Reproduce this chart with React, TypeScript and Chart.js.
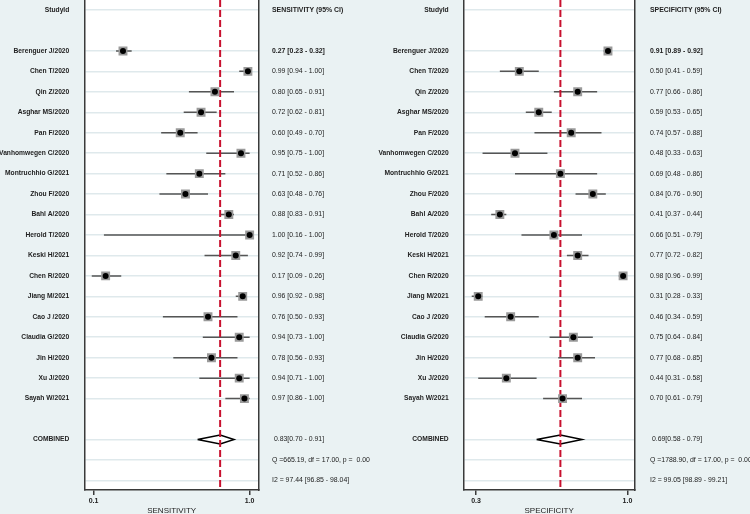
import React, { useEffect, useRef } from 'react';
import { Chart, registerables } from 'chart.js';
Chart.register(...registerables);
Chart.defaults.font.family = '"Liberation Sans", Arial, sans-serif';

const studies = [
  'Berenguer J/2020', 'Chen T/2020', 'Qin Z/2020', 'Asghar MS/2020', 'Pan F/2020',
  'Vanhomwegen C/2020', 'Montruchhio G/2021', 'Zhou F/2020', 'Bahl A/2020', 'Herold T/2020',
  'Keski H/2021', 'Chen R/2020', 'Jiang M/2021', 'Cao J /2020', 'Claudia G/2020',
  'Jin H/2020', 'Xu J/2020', 'Sayah W/2021',
];

const sensEst = [0.27, 0.99, 0.80, 0.72, 0.60, 0.95, 0.71, 0.63, 0.88, 1.00, 0.92, 0.17, 0.96, 0.76, 0.94, 0.78, 0.94, 0.97];
const sensLo = [0.23, 0.94, 0.65, 0.62, 0.49, 0.75, 0.52, 0.48, 0.83, 0.16, 0.74, 0.09, 0.92, 0.50, 0.73, 0.56, 0.71, 0.86];
const sensHi = [0.32, 1.00, 0.91, 0.81, 0.70, 1.00, 0.86, 0.76, 0.91, 1.00, 0.99, 0.26, 0.98, 0.93, 1.00, 0.93, 1.00, 1.00];
const sensPooled = [0.83, 0.70, 0.91];
const sensStats = ['Q =665.19, df = 17.00, p =  0.00', 'I2 = 97.44 [96.85 - 98.04]'];
const sensTicks = [0.1, 1.0];

const specEst = [0.91, 0.50, 0.77, 0.59, 0.74, 0.48, 0.69, 0.84, 0.41, 0.66, 0.77, 0.98, 0.31, 0.46, 0.75, 0.77, 0.44, 0.70];
const specLo = [0.89, 0.41, 0.66, 0.53, 0.57, 0.33, 0.48, 0.76, 0.37, 0.51, 0.72, 0.96, 0.28, 0.34, 0.64, 0.68, 0.31, 0.61];
const specHi = [0.92, 0.59, 0.86, 0.65, 0.88, 0.63, 0.86, 0.90, 0.44, 0.79, 0.82, 0.99, 0.33, 0.59, 0.84, 0.85, 0.58, 0.79];
const specPooled = [0.69, 0.58, 0.79];
const specStats = ['Q =1788.90, df = 17.00, p =  0.00', 'I2 = 99.05 [98.89 - 99.21]'];
const specTicks = [0.3, 1.0];

const Y_MIN = -0.49;
const Y_MAX = 23.47;
const COMBINED_ROW = 21;

type PanelProps = {
  title: string;
  header: string;
  est: number[];
  lo: number[];
  hi: number[];
  pooled: number[];
  stats: string[];
  ticks: number[];
  xMin: number;
  xMax: number;
  leftW: number;
  rightW: number;
  leftPad: number;
  rightPad: number;
  offsetX: number;
};

const fmt = (v: number) => v.toFixed(2);

function Panel(p: PanelProps) {
  const ref = useRef<HTMLCanvasElement>(null);
  useEffect(() => {
    if (!ref.current) return;
    const rows = [0, ...studies.map((_, i) => i + 2), COMBINED_ROW, COMBINED_ROW + 1, COMBINED_ROW + 2];
    const leftLabel = (r: number) => {
      if (r === 0) return 'StudyId';
      if (r === COMBINED_ROW) return 'COMBINED';
      if (r >= 2 && r < 2 + studies.length) return studies[r - 2];
      return '';
    };
    const rightLabel = (r: number) => {
      if (r === 0) return p.header;
      if (r === COMBINED_ROW) return ` ${fmt(p.pooled[0])}[${fmt(p.pooled[1])} - ${fmt(p.pooled[2])}]`;
      if (r === COMBINED_ROW + 1) return p.stats[0];
      if (r === COMBINED_ROW + 2) return p.stats[1];
      if (r >= 2 && r < 2 + studies.length) {
        const i = r - 2;
        return `${fmt(p.est[i])} [${fmt(p.lo[i])} - ${fmt(p.hi[i])}]`;
      }
      return '';
    };
    const ciData: any[] = [];
    studies.forEach((_, i) => {
      ciData.push({ x: p.lo[i], y: i + 2 }, { x: p.hi[i], y: i + 2 }, { x: p.hi[i], y: null });
    });
    const pts = studies.map((_, i) => ({ x: p.est[i], y: i + 2 }));
    const h = 0.22;
    const diamond = [
      { x: p.pooled[1], y: COMBINED_ROW },
      { x: p.pooled[0], y: COMBINED_ROW - h },
      { x: p.pooled[2], y: COMBINED_ROW },
      { x: p.pooled[0], y: COMBINED_ROW + h },
      { x: p.pooled[1], y: COMBINED_ROW },
    ];
    const whiteArea = {
      id: 'whiteArea',
      beforeDraw(chart: any) {
        const { ctx, chartArea } = chart;
        ctx.save();
        ctx.fillStyle = '#ffffff';
        ctx.fillRect(chartArea.left, chartArea.top, chartArea.right - chartArea.left, chartArea.bottom - chartArea.top);
        ctx.restore();
      },
    };
    const fitY = (w: number) => (s: any) => {
      s.width = w;
      s.paddingTop = 0;
      s.paddingBottom = 0;
    };
    const chart = new Chart(ref.current, {
      type: 'scatter',
      data: {
        datasets: [
          {
            type: 'line', data: ciData, borderColor: '#555555', borderWidth: 1.5,
            pointRadius: 0, spanGaps: false, order: 5, xAxisID: 'x', yAxisID: 'yLeft',
          } as any,
          {
            type: 'line', data: diamond, borderColor: '#000000', borderWidth: 1.5,
            backgroundColor: '#ffffff', fill: 'shape', pointRadius: 0, tension: 0, order: 4,
            xAxisID: 'x', yAxisID: 'yLeft',
          } as any,
          {
            type: 'line', data: [{ x: p.pooled[0], y: Y_MIN }, { x: p.pooled[0], y: Y_MAX }],
            borderColor: '#c8102e', borderWidth: 2, borderDash: [7, 3], pointRadius: 0, order: 3,
            xAxisID: 'x', yAxisID: 'yLeft',
          } as any,
          {
            type: 'scatter', data: pts, pointStyle: 'rect', pointRadius: 6.3,
            backgroundColor: '#9a9a9a', borderWidth: 0, order: 2, xAxisID: 'x', yAxisID: 'yLeft',
          } as any,
          {
            type: 'scatter', data: pts, pointStyle: 'circle', pointRadius: 3,
            backgroundColor: '#000000', borderWidth: 0, order: 1, xAxisID: 'x', yAxisID: 'yLeft',
          } as any,
        ],
      },
      options: {
        animation: false,
        responsive: false,
        devicePixelRatio: 1,
        layout: { padding: 0, autoPadding: false },
        plugins: { legend: { display: false }, tooltip: { enabled: false } },
        scales: {
          x: {
            type: 'linear', position: 'bottom', min: p.xMin, max: p.xMax,
            afterBuildTicks: (s: any) => { s.ticks = p.ticks.map((v) => ({ value: v })); },
            afterFit: (s: any) => { s.height = 34; s.paddingLeft = 0; s.paddingRight = 0; },
            ticks: {
              autoSkip: false, maxRotation: 0, padding: 2, color: '#222222',
              font: { size: 7, weight: 'bold' },
              callback: (v: any) => Number(v).toFixed(1),
            },
            grid: { drawOnChartArea: false, drawTicks: true, tickLength: 5, color: '#3a3a3a', lineWidth: 1.5 },
            border: { color: '#3a3a3a', width: 1.5 },
            title: { display: true, text: p.title, color: '#222222', font: { size: 8 }, padding: { top: 0, bottom: 8 } },
          },
          yLeft: {
            type: 'linear', position: 'left', reverse: true, min: Y_MIN, max: Y_MAX,
            afterBuildTicks: (s: any) => { s.ticks = rows.map((v) => ({ value: v })); },
            afterFit: fitY(p.leftW),
            ticks: {
              autoSkip: false, padding: p.leftPad, color: '#222222',
              font: { size: 6.7, weight: 'bold' },
              callback: (v: any) => leftLabel(Number(v)),
            },
            grid: { color: '#dfe9ec', lineWidth: 1.5, drawTicks: false },
            border: { color: '#3a3a3a', width: 1.5 },
          },
          yRight: {
            type: 'linear', position: 'right', reverse: true, min: Y_MIN, max: Y_MAX,
            afterBuildTicks: (s: any) => { s.ticks = rows.map((v) => ({ value: v })); },
            afterFit: fitY(p.rightW),
            ticks: {
              autoSkip: false, padding: p.rightPad, color: '#222222',
              font: (ctx: any) => ({ size: 6.9, weight: ctx.index === 1 || ctx.index === 0 ? 'bold' : 'normal' }),
              callback: (v: any) => rightLabel(Number(v)),
            },
            grid: { drawOnChartArea: false, drawTicks: false },
            border: { color: '#3a3a3a', width: 1.5 },
          },
        },
      } as any,
      plugins: [whiteArea],
    });
    return () => chart.destroy();
  }, []);
  return (
    <div style={{ position: 'absolute', left: p.offsetX, top: 0, width: 375, height: 524 }}>
      <canvas ref={ref} width={375} height={524} style={{ display: 'block' }} />
    </div>
  );
}

export default function App() {
  return (
    <div style={{ position: 'fixed', left: 0, top: 0, width: 750, height: 514, background: '#eaf2f3', overflow: 'hidden' }}>
      <Panel
        title="SENSITIVITY" header="SENSITIVITY (95% CI)"
        est={sensEst} lo={sensLo} hi={sensHi} pooled={sensPooled} stats={sensStats} ticks={sensTicks}
        xMin={0.047} xMax={1.054} leftW={84.3} rightW={116} leftPad={15} rightPad={13} offsetX={0}
      />
      <Panel
        title="SPECIFICITY" header="SPECIFICITY (95% CI)"
        est={specEst} lo={specLo} hi={specHi} pooled={specPooled} stats={specStats} ticks={specTicks}
        xMin={0.241} xMax={1.035} leftW={88.3} rightW={115} leftPad={14.6} rightPad={15} offsetX={375}
      />
    </div>
  );
}
